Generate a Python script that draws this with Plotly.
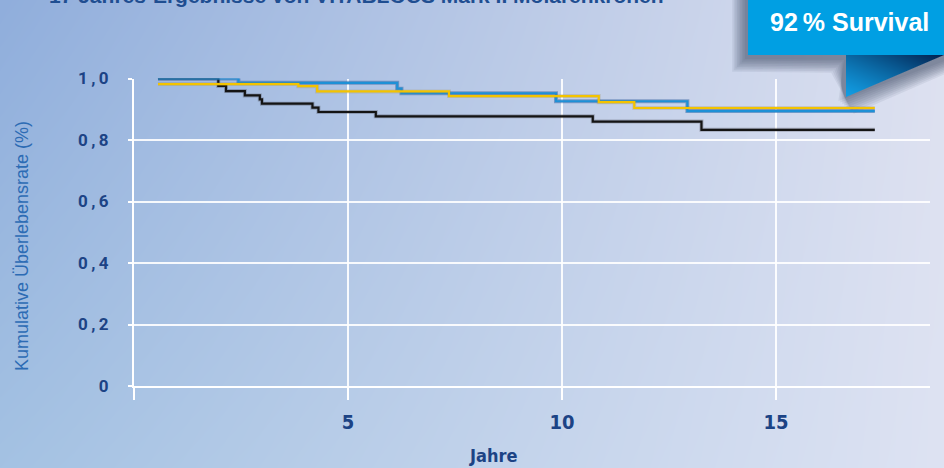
import base64, struct, zlib
import numpy as np
import plotly.graph_objects as go

W, H = 944, 468

# ---------------- data ----------------
blue_x = [0.56, 2.44, 6.15, 6.25, 9.86, 12.93, 17.31]
blue_y = [1.0, 0.986, 0.967, 0.952, 0.926, 0.894, 0.894]
yellow_x = [0.56, 3.84, 4.28, 7.36, 10.86, 11.69, 17.31]
yellow_y = [0.982, 0.975, 0.958, 0.943, 0.923, 0.904, 0.904]
black_x = [0.56, 1.97, 2.15, 2.59, 2.94, 2.99, 4.17, 4.31, 5.65, 10.72, 13.26, 17.31]
black_y = [1.0, 0.976, 0.959, 0.945, 0.932, 0.918, 0.905, 0.891, 0.877, 0.86, 0.833, 0.833]

x_tickvals = [0, 5, 10, 15]
x_ticktext = ["", "5", "10", "15"]
y_tickvals = [0, 0.2, 0.4, 0.6, 0.8, 1.0]
y_ticktext = ["0", "0\u2009,\u20092", "0\u2009,\u20094", "0\u2009,\u20096", "0\u2009,\u20098", "1\u2009,\u20090"]

title_text = "17 Jahres-Ergebnisse von VITABLOCS Mark II Molarenkronen"
badge_text = "92\u2009% Survival"
x_title = "Jahre"
y_title = "Kumulative Überlebensrate (%)"

# ---------------- png helper ----------------
def to_png(arr):
    arr = np.ascontiguousarray(np.clip(arr, 0, 255).astype(np.uint8))
    h, w, c = arr.shape
    raw = np.concatenate([np.zeros((h, 1), np.uint8), arr.reshape(h, w * c)], axis=1).tobytes()
    def chunk(t, d):
        return struct.pack(">I", len(d)) + t + d + struct.pack(">I", zlib.crc32(t + d) & 0xffffffff)
    ct = 2 if c == 3 else 6
    png = b"\x89PNG\r\n\x1a\n" + chunk(b"IHDR", struct.pack(">IIBBBBB", w, h, 8, ct, 0, 0, 0)) \
        + chunk(b"IDAT", zlib.compress(raw, 9)) + chunk(b"IEND", b"")
    return "data:image/png;base64," + base64.b64encode(png).decode()

# ---------------- background gradient ----------------
TL = np.array([144, 174, 220.]); TR = np.array([222, 225, 240.])
BL = np.array([164, 194, 227.]); BR = np.array([222, 227, 243.])
xx = (np.arange(W) / (W - 1))[None, :, None]
yy = (np.arange(H) / (H - 1))[:, None, None]
bg = (TL * (1 - xx) * (1 - yy) + TR * xx * (1 - yy) + BL * (1 - xx) * yy + BR * xx * yy)
bg_src = to_png(bg)

# ---------------- triangle fold (RGBA) ----------------
tw, th = 98, 43
tx = np.arange(tw)[None, :] + 0.5
ty = np.arange(th)[:, None] + 0.5 + 54
yline = 97 - 42 * tx / 98
d = (yline - ty) * 0.919
alpha = np.clip(d + 0.5, 0, 1)
t = np.clip((tx / 98 + (97 - ty) / 42) / 2, 0, 1) ** 1.2
c0 = np.array([18, 158, 228.]); c1 = np.array([2, 32, 78.])
col = c0 * (1 - t[..., None]) + c1 * t[..., None]
tri_img = np.concatenate([col, (alpha * 255)[..., None]], axis=2)
tri_src = to_png(tri_img)

# ---------------- badge shadow shapes ----------------
def P(x, y):
    return f"{x / W:.5f},{1 - y / H:.5f}"

shadow_shapes = []
for i in range(9):
    e = 1.6 * i - 3
    pts = [(742 - e, -5), (950, -5), (950, 62 + e), (842 + e * 1.2, 104 + e), (841 - e, 62 + e + 1),
           (742 - e, 62 + e)]
    path = "M " + " L ".join(P(x, y) for x, y in pts) + " Z"
    shadow_shapes.append(dict(type="path", xref="paper", yref="paper", path=path,
                              fillcolor="rgba(45,50,80,0.075)", line=dict(width=0), layer="below"))

# ---------------- figure ----------------
fig = go.Figure()

def add_series(x, y, color, halo):
    fig.add_trace(go.Scatter(x=x, y=y, mode="lines", line=dict(shape="hv", color=halo, width=4),
                             hoverinfo="skip", showlegend=False))
    fig.add_trace(go.Scatter(x=x, y=y, mode="lines", line=dict(shape="hv", color=color, width=2.2),
                             showlegend=False))

add_series(black_x, black_y, "#141414", "rgba(60,60,70,0.3)")
add_series(blue_x, blue_y, "#1e90d6", "rgba(20,70,140,0.4)")
add_series(yellow_x, yellow_y, "#f3c300", "rgba(150,120,40,0.2)")

x0p, x1p = 134 / W, 930 / W
y0p, y1p = 1 - 386 / H, 1 - 78.5 / H

narrow = "Liberation Sans Narrow, DejaVu Sans Condensed, Arial Narrow, sans-serif"

fig.update_layout(
    width=W, height=H,
    margin=dict(l=0, r=0, t=0, b=0),
    paper_bgcolor="rgba(0,0,0,0)", plot_bgcolor="rgba(0,0,0,0)",
    xaxis=dict(domain=[x0p, x1p], range=[0, 18.6], tickvals=x_tickvals, ticktext=x_ticktext,
               showgrid=True, gridcolor="rgba(255,255,255,0.9)", gridwidth=1.5,
               showline=True, linecolor="white", linewidth=2, zeroline=False,
               ticks="outside", ticklen=12, tickcolor="white", tickwidth=1.5,
               ticklabelstandoff=5,
               tickfont=dict(family=narrow, size=20, color="#1c4385", weight="bold"),
               automargin=False, fixedrange=True),
    yaxis=dict(domain=[y0p, y1p], range=[0, 1], tickvals=y_tickvals, ticktext=y_ticktext,
               showgrid=True, gridcolor="rgba(255,255,255,0.9)", gridwidth=1.5,
               showline=True, linecolor="white", linewidth=2, zeroline=False,
               ticks="outside", ticklen=4, tickcolor="white", tickwidth=1.5,
               ticklabelstandoff=16,
               tickfont=dict(family="Roboto, Liberation Sans, sans-serif", size=17, color="#1c4385",
                             weight="bold"),
               automargin=False, fixedrange=True),
    images=[
        dict(source=bg_src, xref="paper", yref="paper", x=0, y=1, sizex=1, sizey=1,
             xanchor="left", yanchor="top", sizing="stretch", layer="below"),
        dict(source=tri_src, xref="paper", yref="paper", x=846 / W, y=1 - 54 / H,
             sizex=98 / W, sizey=43 / H, xanchor="left", yanchor="top", sizing="stretch", layer="above"),
    ],
    shapes=shadow_shapes + [
        dict(type="rect", xref="paper", yref="paper", x0=748 / W, x1=1.0, y0=1 - 55 / H, y1=1.0,
             fillcolor="#009fe3", line=dict(width=0), layer="above"),
    ],
    annotations=[
        dict(text=title_text, xref="paper", yref="paper", x=47 / W, y=1 + 5 / H, xanchor="left",
             yanchor="middle", showarrow=False,
             font=dict(family="Liberation Sans, Arial, sans-serif", size=21, color="#1f4e91", weight="bold")),
        dict(text=badge_text, xref="paper", yref="paper", x=849 / W, y=1 - 22 / H, xanchor="center",
             yanchor="middle", showarrow=False,
             font=dict(family="Liberation Sans, Arial, sans-serif", size=25, color="white", weight="bold")),
        dict(text=x_title, xref="paper", yref="paper", x=493 / W, y=1 - 455 / H, xanchor="center",
             yanchor="middle", showarrow=False,
             font=dict(family=narrow, size=18, color="#1c4385", weight="bold")),
        dict(text=y_title, xref="paper", yref="paper", x=22 / W, y=1 - 246 / H, xanchor="center",
             yanchor="middle", showarrow=False, textangle=-90,
             font=dict(family="Liberation Sans, Arial, sans-serif", size=18, color="#2c6bb4")),
    ],
)

fig.write_html("out.html")
